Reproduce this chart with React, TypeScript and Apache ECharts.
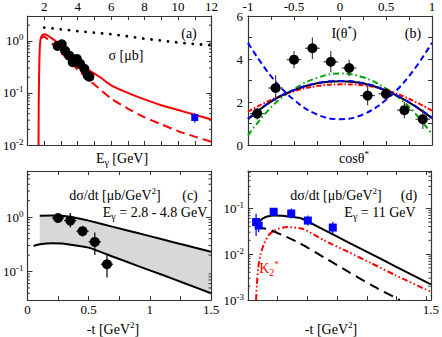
import React, { useEffect, useRef } from 'react';
import * as echarts from 'echarts';

const SERIF = 'Liberation Serif';
const AX = '#333';

// ---------- Panel (a): sigma vs E_gamma ----------
const aDotE = [2, 3, 4, 5, 6, 7, 8, 9, 10, 11, 12];
const aDotS = [1.8, 1.66, 1.54, 1.44, 1.34, 1.22, 1.1, 1.01, 0.93, 0.87, 0.82];
const aSolidE = [1.66, 1.67, 1.69, 1.72, 1.76, 1.82, 1.9, 2.0, 2.15, 2.4, 2.7, 2.95, 3.35, 3.95, 4.55, 5.34, 6, 7, 8, 9, 10, 11, 12];
const aSolidS = [0.01, 0.05, 0.2, 0.55, 0.95, 1.18, 1.3, 1.34, 1.3, 1.15, 0.98, 0.865, 0.645, 0.43, 0.29, 0.2, 0.14, 0.1, 0.075, 0.058, 0.047, 0.038, 0.031];
const aDashE = [1.8, 1.9, 2.0, 2.2, 2.5, 3, 3.5, 4, 4.5, 5, 6, 7, 8, 9, 10, 11, 12];
const aDashS = [1.1, 1.2, 1.2, 1.07, 0.87, 0.6, 0.41, 0.28, 0.2, 0.145, 0.078, 0.05, 0.034, 0.025, 0.0185, 0.0145, 0.0115];
const aDataE = [2.8, 3.05, 3.25, 3.5, 3.7, 3.95, 4.15, 4.4, 4.6, 4.7];
const aDataS = [0.8, 0.86, 0.645, 0.52, 0.39, 0.45, 0.36, 0.29, 0.215, 0.205];
const aDataErr = [0.08, 0.09, 0.07, 0.06, 0.05, 0.05, 0.05, 0.04, 0.035, 0.035];
const aBlueE = [11];
const aBlueS = [0.0337];
const aBlueErr = [0.007];
const aMinor = [0.02, 0.03, 0.04, 0.05, 0.06, 0.07, 0.08, 0.09, 0.2, 0.3, 0.4, 0.5, 0.6, 0.7, 0.8, 0.9, 2];

// ---------- Panel (b): I(theta*) vs cos theta* ----------
const bCurveX = [-1, -0.75, -0.5, -0.25, 0, 0.25, 0.5, 0.75, 1];
const bBlack = [1.2, 2.02, 2.55, 2.87, 2.97, 2.87, 2.53, 1.98, 1.25];
const bBlueOn = [1.22, 2.03, 2.56, 2.88, 2.98, 2.88, 2.54, 1.99, 1.27];
const bBlueU = [4.75, 3.2, 2.1, 1.42, 1.2, 1.42, 2.1, 3.2, 4.75];
const bRed = [1.55, 2.1, 2.5, 2.74, 2.82, 2.78, 2.55, 2.15, 1.6];
const bGreen = [0.45, 1.75, 2.6, 3.12, 3.33, 3.15, 2.62, 1.78, 0.5];
const bDataX = [-0.9, -0.7, -0.5, -0.3, -0.1, 0.1, 0.3, 0.5, 0.7, 0.9];
const bDataY = [1.46, 2.65, 3.97, 4.5, 3.87, 3.58, 2.3, 2.38, 1.62, 1.2];
const bDataErr = [0.27, 0.6, 0.4, 0.5, 0.5, 0.38, 0.45, 0.27, 0.38, 0.45];

// ---------- Panel (c): dsigma/dt, E = 2.8-4.8 GeV ----------
const cUpT = [0.1, 0.2, 0.3, 0.4, 0.5, 0.7, 0.9, 1.1, 1.3, 1.5];
const cUpV = [1.06, 1.07, 1.04, 0.96, 0.86, 0.66, 0.51, 0.39, 0.3, 0.23];
const cLoT = [0.05, 0.1, 0.2, 0.3, 0.4, 0.5, 0.7, 0.9, 1.1, 1.3, 1.5];
const cLoV = [0.295, 0.316, 0.33, 0.325, 0.3, 0.275, 0.187, 0.127, 0.087, 0.059, 0.04];
const cDataT = [0.25, 0.35, 0.45, 0.55, 0.65];
const cDataV = [0.96, 0.86, 0.55, 0.35, 0.136];
const cDataLo = [0.78, 0.64, 0.44, 0.2, 0.078];
const cDataHi = [1.18, 1.18, 0.69, 0.52, 0.2];
const cMinor = [0.04, 0.05, 0.06, 0.07, 0.08, 0.09, 0.2, 0.3, 0.4, 0.5, 0.6, 0.7, 0.8, 0.9, 2, 3, 4, 5, 6];

// ---------- Panel (d): dsigma/dt, E = 11 GeV ----------
const dSolidT = [0.028, 0.04, 0.06, 0.09, 0.13, 0.18, 0.25, 0.33, 0.41, 0.5, 0.7, 0.9, 1.1, 1.3, 1.5];
const dSolidV = [0.036, 0.045, 0.053, 0.061, 0.067, 0.07, 0.069, 0.065, 0.06, 0.046, 0.025, 0.0135, 0.0074, 0.004, 0.0022];
const dDashT = [0.03, 0.08, 0.143, 0.25, 0.395, 0.6, 0.8, 1.0, 1.238];
const dDashV = [0.04, 0.037, 0.034, 0.026, 0.0174, 0.0085, 0.0042, 0.0021, 0.001];
const dRedT = [0.028, 0.035, 0.045, 0.064, 0.092, 0.134, 0.19, 0.29, 0.43, 0.6, 0.8, 1.0, 1.2, 1.5];
const dRedV = [0.001, 0.0022, 0.0049, 0.0095, 0.016, 0.026, 0.034, 0.039, 0.035, 0.02, 0.0113, 0.0063, 0.0035, 0.0015];
const dDataT = [0.028, 0.05, 0.176, 0.324, 0.464, 0.674];
const dDataV = [0.05, 0.042, 0.084, 0.077, 0.054, 0.038];
const dDataLo = [0.025, 0.03, 0.072, 0.06, 0.042, 0.028];
const dDataHi = [0.076, 0.055, 0.098, 0.099, 0.07, 0.051];
const dMinor = [0.002, 0.003, 0.004, 0.005, 0.006, 0.007, 0.008, 0.009, 0.02, 0.03, 0.04, 0.05, 0.06, 0.07, 0.08, 0.09, 0.2, 0.3, 0.4, 0.5, 0.6];

const pairs = (xs: number[], ys: number[]) => xs.map((x, i) => [x, ys[i]]);

const halfFmt = (v: number) => {
  const t = v * 2;
  return Math.abs(t - Math.round(t)) < 1e-6 ? String(Math.round(t) / 2) : '';
};
const evenFmt = (v: number) => (Math.abs(v / 2 - Math.round(v / 2)) < 1e-6 ? String(Math.round(v)) : '');
const logFmt = (v: number) => {
  const e = Math.log10(v);
  const r = Math.round(e);
  if (Math.abs(e - r) > 1e-4) return '';
  return `{b|10}{s|${r}}`;
};

const tickStyle = { show: true, inside: true, length: 4, lineStyle: { color: AX, width: 1 } };
const lineStyleAx = { color: AX, width: 1.2 };

function linX(gridIndex: number, position: string, min: number, max: number, interval: number, show: boolean, fmt?: any) {
  return {
    type: 'value', gridIndex, position, min, max, interval,
    axisLine: { show: true, onZero: false, lineStyle: lineStyleAx },
    axisTick: tickStyle,
    axisLabel: { show, margin: 3, fontFamily: SERIF, fontSize: 13, color: '#000', formatter: fmt },
    splitLine: { show: false },
  };
}
function linY(gridIndex: number, position: string, min: number, max: number, interval: number, show: boolean, fmt?: any) {
  return {
    type: 'value', gridIndex, position, min, max, interval,
    axisLine: { show: true, onZero: false, lineStyle: lineStyleAx },
    axisTick: tickStyle,
    axisLabel: { show, margin: 5, fontFamily: SERIF, fontSize: 13, color: '#000', formatter: fmt },
    splitLine: { show: false },
  };
}
function logY(gridIndex: number, position: string, min: number, max: number, show: boolean) {
  return {
    type: 'log', logBase: 10, gridIndex, position, min, max,
    axisLine: { show: true, onZero: false, lineStyle: lineStyleAx },
    axisTick: { ...tickStyle, length: 5 },
    axisLabel: {
      show, margin: 4, formatter: logFmt,
      rich: {
        b: { fontFamily: SERIF, fontSize: 13, color: '#000', lineHeight: 16 },
        s: { fontFamily: SERIF, fontSize: 9, color: '#000', lineHeight: 9, verticalAlign: 'top' },
      },
    },
    splitLine: { show: false },
    minorTick: { show: false },
  };
}

function line(xi: number, xs: number[], ys: number[], color: string, width: number, type: any, smooth: any = false, cap = 'butt') {
  return {
    type: 'line', xAxisIndex: xi, yAxisIndex: xi, data: pairs(xs, ys), showSymbol: false, symbol: 'none',
    lineStyle: { color, width, type, cap }, smooth, silent: true, clip: true, z: 2,
  };
}

function errSeries(xi: number, rows: number[][], color: string, lw: number) {
  return {
    type: 'custom', xAxisIndex: xi, yAxisIndex: xi, data: rows, silent: true, z: 3,
    renderItem: (_p: any, api: any) => {
      const x = api.value(0), y = api.value(1);
      const a = api.coord([x, api.value(2)]), b = api.coord([x, api.value(3)]);
      const c = api.coord([api.value(4), y]), d = api.coord([api.value(5), y]);
      return {
        type: 'group', children: [
          { type: 'line', shape: { x1: a[0], y1: a[1], x2: b[0], y2: b[1] }, style: { stroke: color, lineWidth: lw } },
          { type: 'line', shape: { x1: c[0], y1: c[1], x2: d[0], y2: d[1] }, style: { stroke: color, lineWidth: lw } },
        ],
      };
    },
  };
}

function minorTicks(xi: number, xMin: number, xMax: number, vals: number[]) {
  return {
    type: 'custom', xAxisIndex: xi, yAxisIndex: xi, data: vals.map((v) => [xMin, v]), silent: true, z: 5,
    renderItem: (_p: any, api: any) => {
      const v = api.value(1);
      const l = api.coord([xMin, v]), r = api.coord([xMax, v]);
      return {
        type: 'group', children: [
          { type: 'line', shape: { x1: l[0], y1: l[1], x2: l[0] + 2.5, y2: l[1] }, style: { stroke: AX, lineWidth: 1 } },
          { type: 'line', shape: { x1: r[0], y1: r[1], x2: r[0] - 2.5, y2: r[1] }, style: { stroke: AX, lineWidth: 1 } },
        ],
      };
    },
  };
}

function scatter(xi: number, xs: number[], ys: number[], symbol: string, size: number, color: string) {
  return { type: 'scatter', xAxisIndex: xi, yAxisIndex: xi, data: pairs(xs, ys), symbol, symbolSize: size, itemStyle: { color, opacity: 1 }, silent: true, z: 4 };
}

const richFor = (color: string, size: number) => ({
  n: { fontFamily: SERIF, fontSize: size, color, lineHeight: 18 },
  sp: { fontFamily: SERIF, fontSize: Math.round(size * 0.65), color, lineHeight: 10, verticalAlign: 'top' },
  sb: { fontFamily: SERIF, fontSize: Math.round(size * 0.7), color, lineHeight: 10, verticalAlign: 'bottom' },
});

function txt(x: number, y: number, text: string, color = '#000', size = 14) {
  return {
    type: 'text', x, y, z: 10, silent: true,
    style: {
      text, fill: color, fontFamily: SERIF, fontSize: size, align: 'center', verticalAlign: 'middle',
      textAlign: 'center', textVerticalAlign: 'middle', rich: richFor(color, size),
    },
  };
}

function buildOption() {
  const aErrRows = aDataE.map((e, i) => [e, aDataS[i], aDataS[i] - aDataErr[i], aDataS[i] + aDataErr[i], e - 0.05, e + 0.05]);
  const aBlueRows = aBlueE.map((e, i) => [e, aBlueS[i], aBlueS[i] - aBlueErr[i], aBlueS[i] + aBlueErr[i], e - 0.15, e + 0.15]);
  const bErrRows = bDataX.map((x, i) => [x, bDataY[i], bDataY[i] - bDataErr[i], bDataY[i] + bDataErr[i], x - 0.08, x + 0.08]);
  const cErrRows = cDataT.map((t, i) => [t, cDataV[i], cDataLo[i], cDataHi[i], t - 0.05, t + 0.05]);
  const dErrRows = dDataT.map((t, i) => [t, dDataV[i], dDataLo[i], dDataHi[i], t - 0.015, t + 0.015]);

  const band = {
    type: 'custom', xAxisIndex: 4, yAxisIndex: 4, data: [[cUpT[0], cUpV[0]]], silent: true, z: 1,
    renderItem: (_p: any, api: any) => {
      const pts: number[][] = [];
      cUpT.forEach((t, i) => pts.push(api.coord([t, cUpV[i]])));
      for (let i = cLoT.length - 1; i >= 0; i--) {
        if (cLoT[i] >= cUpT[0]) pts.push(api.coord([cLoT[i], cLoV[i]]));
      }
      return { type: 'polygon', shape: { points: pts }, style: { fill: '#d8d8d8', stroke: 'none' } };
    },
  };

  return {
    animation: false,
    textStyle: { fontFamily: SERIF },
    grid: [
      { left: 27, top: 15, width: 184.5, height: 130 },
      { left: 248, top: 15, width: 184, height: 130 },
      { left: 27, top: 171, width: 184, height: 129 },
      { left: 248, top: 171, width: 184, height: 129 },
    ],
    xAxis: [
      linX(0, 'bottom', 1, 12, 1, false),
      linX(0, 'top', 1, 12, 1, true, evenFmt),
      linX(1, 'bottom', -1, 1, 0.25, false),
      linX(1, 'top', -1, 1, 0.25, true, halfFmt),
      linX(2, 'bottom', 0, 1.5, 0.25, true, halfFmt),
      linX(2, 'top', 0, 1.5, 0.25, false),
      linX(3, 'bottom', -0.04, 1.5, 0.25, true, halfFmt),
      linX(3, 'top', -0.04, 1.5, 0.25, false),
    ],
    yAxis: [
      logY(0, 'left', 0.01, 3, true),
      logY(0, 'right', 0.01, 3, false),
      linY(1, 'left', 0, 6, 1, true, evenFmt),
      linY(1, 'right', 0, 6, 1, false),
      logY(2, 'left', 0.03, 7, true),
      logY(2, 'right', 0.03, 7, false),
      logY(3, 'left', 0.001, 0.65, true),
      logY(3, 'right', 0.001, 0.65, false),
    ],
    series: [
      // (a)
      line(0, aDotE, aDotS, '#000', 2.8, [0.1, 8.2], false, 'round'),
      line(0, aDashE, aDashS, '#ff0000', 2, [9, 5], 0.2),
      line(0, aSolidE, aSolidS, '#ff0000', 2, 'solid', 0.2),
      errSeries(0, aErrRows, '#000', 1.2),
      errSeries(0, aBlueRows, '#0000ff', 1.2),
      scatter(0, aDataE, aDataS, 'circle', 10, '#000'),
      scatter(0, aBlueE, aBlueS, 'rect', 7, '#0000ff'),
      minorTicks(0, 1, 12, aMinor),
      // (b)
      line(2, bCurveX, bGreen, '#00a000', 2, [6, 3, 1.5, 3], 0.4),
      line(2, bCurveX, bRed, '#ff0000', 2, [5, 2, 1.5, 2], 0.4),
      line(2, bCurveX, bBlack, '#000', 2, 'solid', 0.4),
      line(2, bCurveX, bBlueOn, '#0000ff', 2, [6, 4], 0.4),
      line(2, bCurveX, bBlueU, '#0000ff', 2, [6, 3.5], 0.4),
      errSeries(2, bErrRows, '#444', 1.2),
      scatter(2, bDataX, bDataY, 'circle', 10, '#000'),
      // (c)
      band,
      line(4, cUpT, cUpV, '#000', 2, 'solid', 0.2),
      line(4, cLoT, cLoV, '#000', 2, 'solid', 0.2),
      errSeries(4, cErrRows, '#000', 1.2),
      scatter(4, cDataT, cDataV, 'circle', 10, '#000'),
      minorTicks(4, 0, 1.5, cMinor),
      // (d)
      line(6, dRedT, dRedV, '#ff0000', 2, [6, 2.5, 1.5, 2.5, 1.5, 2.5], 0.2),
      line(6, dDashT, dDashV, '#000', 2, [10, 6], 0.2),
      line(6, dSolidT, dSolidV, '#000', 2, 'solid', 0.2),
      errSeries(6, dErrRows, '#0000ff', 1.2),
      scatter(6, dDataT, dDataV, 'rect', 8, '#0000ff'),
      minorTicks(6, -0.04, 1.5, dMinor),
    ],
    graphic: [
      txt(189, 33, '{n|(a)}'),
      txt(126, 55, '{n|σ [μb]}'),
      txt(122, 158, '{n|E}{sb|γ}{n| [GeV]}'),
      txt(344, 33, '{n|I(θ}{sp|*}{n|)}'),
      txt(413, 33, '{n|(b)}'),
      txt(354, 158, '{n|cosθ}{sp|*}'),
      txt(115, 195, '{n|dσ/dt [μb/GeV}{sp|2}{n|]}'),
      txt(190, 195, '{n|(c)}'),
      txt(155, 212, '{n|E}{sb|γ}{n| = 2.8 - 4.8 GeV}'),
      txt(113, 329, '{n|-t [GeV}{sp|2}{n|]}'),
      txt(336, 195, '{n|dσ/dt [μb/GeV}{sp|2}{n|]}'),
      txt(409, 195, '{n|(d)}'),
      txt(380, 212, '{n|E}{sb|γ}{n| = 11 GeV}'),
      txt(269, 268, '{n|K}{sb|2}{sp|*}', '#ff0000'),
      txt(331, 329, '{n|-t [GeV}{sp|2}{n|]}'),
    ],
  };
}

export default function App() {
  const ref = useRef<HTMLDivElement>(null);
  useEffect(() => {
    const chart = echarts.init(ref.current as HTMLDivElement, undefined, { renderer: 'svg' });
    chart.setOption(buildOption() as any);
    return () => chart.dispose();
  }, []);
  return <div ref={ref} style={{ position: 'absolute', left: 0, top: 0, width: 442, height: 337 }} />;
}
